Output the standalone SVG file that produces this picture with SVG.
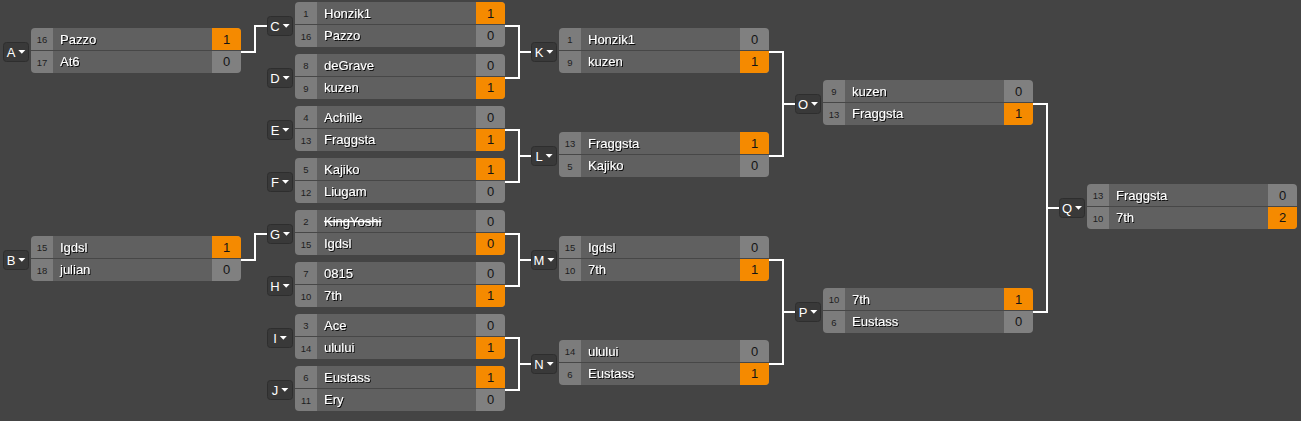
<svg xmlns="http://www.w3.org/2000/svg" xmlns:xlink="http://www.w3.org/1999/xlink" width="1301" height="421" viewBox="0 0 1301 421">
<defs>
<clipPath id="bc" clipPathUnits="userSpaceOnUse"><rect x="0" y="0" width="210" height="45" rx="4" ry="4"/></clipPath>
<filter id="ts" x="-10%" y="-30%" width="130%" height="170%"><feDropShadow dx="1" dy="1" stdDeviation="0.3" flood-color="#000" flood-opacity="0.9"/></filter>
<g id="base">
<rect x="0" y="0" width="22" height="45" fill="#7c7c7c"/>
<rect x="22" y="0" width="159" height="45" fill="#606060"/>
<rect x="181" y="0" width="29" height="45" fill="#808080"/>
</g>
<polygon id="tri" points="0,-2 7,-2 3.5,1.8" fill="#ffffff"/>
</defs>
<style>
.seed{font-family:"Liberation Sans",Arial,sans-serif;font-size:9.5px;fill:#1e1e1e;text-anchor:middle}
.name{font-family:"Liberation Sans",Arial,sans-serif;font-size:13px;fill:#ffffff;filter:url(#ts)}
.score{font-family:"Liberation Sans",Arial,sans-serif;font-size:13px;fill:#141414;text-anchor:middle}
.tagbox{fill:#393939;stroke:#2e2e2e;stroke-width:1}
.tagt{font-family:"Liberation Sans",Arial,sans-serif;font-size:13px;fill:#ffffff}
.win{fill:#f58a00}
.div{fill:#474747}
.conn{fill:none;stroke:#ffffff;stroke-width:2}
</style>
<rect x="0" y="0" width="1301" height="421" fill="#444444"/>

<g id="connectors" class="conn">
<polyline points="241,52 255,52 255,26 267,26"/>
<polyline points="241,260 255,260 255,234 267,234"/>
<polyline points="505,26 519,26 519,78 505,78"/><line x1="519" y1="52" x2="531" y2="52"/>
<polyline points="505,130 519,130 519,182 505,182"/><line x1="519" y1="156" x2="531" y2="156"/>
<polyline points="505,234 519,234 519,286 505,286"/><line x1="519" y1="260" x2="531" y2="260"/>
<polyline points="505,338 519,338 519,390 505,390"/><line x1="519" y1="364" x2="531" y2="364"/>
<polyline points="769,52 783,52 783,156 769,156"/><line x1="783" y1="104" x2="795" y2="104"/>
<polyline points="769,260 783,260 783,364 769,364"/><line x1="783" y1="312" x2="795" y2="312"/>
<polyline points="1033,104 1047,104 1047,312 1033,312"/><line x1="1047" y1="208" x2="1059" y2="208"/>
</g>

<!-- Match A -->
<g id="match-A">
<rect class="tagbox" x="3.5" y="42.5" width="25" height="19" rx="3"/>
<text class="tagt" x="6.7" y="57">A</text><use xlink:href="#tri" x="18.3" y="52"/>
<g transform="translate(31,28)" clip-path="url(#bc)">
<use xlink:href="#base"/><rect class="win" x="181" y="0" width="29" height="22"/><rect class="div" x="0" y="22" width="210" height="1"/>
<text class="seed" x="11" y="14.8">16</text><text class="name" x="29" y="15.5">Pazzo</text><text class="score" x="195.5" y="15.5">1</text>
<text class="seed" x="11" y="37.5">17</text><text class="name" x="29" y="38">At6</text><text class="score" x="195.5" y="38">0</text>
</g>
</g>

<!-- Match B -->
<g id="match-B">
<rect class="tagbox" x="3.5" y="250.5" width="25" height="19" rx="3"/>
<text class="tagt" x="6.7" y="265">B</text><use xlink:href="#tri" x="18.3" y="260"/>
<g transform="translate(31,236)" clip-path="url(#bc)">
<use xlink:href="#base"/><rect class="win" x="181" y="0" width="29" height="22"/><rect class="div" x="0" y="22" width="210" height="1"/>
<text class="seed" x="11" y="14.8">15</text><text class="name" x="29" y="15.5">Igdsl</text><text class="score" x="195.5" y="15.5">1</text>
<text class="seed" x="11" y="37.5">18</text><text class="name" x="29" y="38">julian</text><text class="score" x="195.5" y="38">0</text>
</g>
</g>

<!-- Match C -->
<g id="match-C">
<rect class="tagbox" x="267.5" y="16.5" width="25" height="19" rx="3"/>
<text class="tagt" x="270.3" y="31">C</text><use xlink:href="#tri" x="282.7" y="26"/>
<g transform="translate(295,2)" clip-path="url(#bc)">
<use xlink:href="#base"/><rect class="win" x="181" y="0" width="29" height="22"/><rect class="div" x="0" y="22" width="210" height="1"/>
<text class="seed" x="11" y="14.8">1</text><text class="name" x="29" y="15.5">Honzik1</text><text class="score" x="195.5" y="15.5">1</text>
<text class="seed" x="11" y="37.5">16</text><text class="name" x="29" y="38">Pazzo</text><text class="score" x="195.5" y="38">0</text>
</g>
</g>

<!-- Match D -->
<g id="match-D">
<rect class="tagbox" x="267.5" y="68.5" width="25" height="19" rx="3"/>
<text class="tagt" x="270.3" y="83">D</text><use xlink:href="#tri" x="282.7" y="78"/>
<g transform="translate(295,54)" clip-path="url(#bc)">
<use xlink:href="#base"/><rect class="win" x="181" y="23" width="29" height="22"/><rect class="div" x="0" y="22" width="210" height="1"/>
<text class="seed" x="11" y="14.8">8</text><text class="name" x="29" y="15.5">deGrave</text><text class="score" x="195.5" y="15.5">0</text>
<text class="seed" x="11" y="37.5">9</text><text class="name" x="29" y="38">kuzen</text><text class="score" x="195.5" y="38">1</text>
</g>
</g>

<!-- Match E -->
<g id="match-E">
<rect class="tagbox" x="267.5" y="120.5" width="25" height="19" rx="3"/>
<text class="tagt" x="270.7" y="135">E</text><use xlink:href="#tri" x="282.3" y="130"/>
<g transform="translate(295,106)" clip-path="url(#bc)">
<use xlink:href="#base"/><rect class="win" x="181" y="23" width="29" height="22"/><rect class="div" x="0" y="22" width="210" height="1"/>
<text class="seed" x="11" y="14.8">4</text><text class="name" x="29" y="15.5">Achille</text><text class="score" x="195.5" y="15.5">0</text>
<text class="seed" x="11" y="37.5">13</text><text class="name" x="29" y="38">Fraggsta</text><text class="score" x="195.5" y="38">1</text>
</g>
</g>

<!-- Match F -->
<g id="match-F">
<rect class="tagbox" x="267.5" y="172.5" width="25" height="19" rx="3"/>
<text class="tagt" x="271" y="187">F</text><use xlink:href="#tri" x="282" y="182"/>
<g transform="translate(295,158)" clip-path="url(#bc)">
<use xlink:href="#base"/><rect class="win" x="181" y="0" width="29" height="22"/><rect class="div" x="0" y="22" width="210" height="1"/>
<text class="seed" x="11" y="14.8">5</text><text class="name" x="29" y="15.5">Kajiko</text><text class="score" x="195.5" y="15.5">1</text>
<text class="seed" x="11" y="37.5">12</text><text class="name" x="29" y="38">Liugam</text><text class="score" x="195.5" y="38">0</text>
</g>
</g>

<!-- Match G -->
<g id="match-G">
<rect class="tagbox" x="267.5" y="224.5" width="25" height="19" rx="3"/>
<text class="tagt" x="269.9" y="239">G</text><use xlink:href="#tri" x="283" y="234"/>
<g transform="translate(295,210)" clip-path="url(#bc)">
<use xlink:href="#base"/><rect class="win" x="181" y="23" width="29" height="22"/><rect class="div" x="0" y="22" width="210" height="1"/>
<text class="seed" x="11" y="14.8">2</text><text class="name" x="29" y="15.5" text-decoration="line-through">KingYoshi</text><text class="score" x="195.5" y="15.5">0</text>
<text class="seed" x="11" y="37.5">15</text><text class="name" x="29" y="38">Igdsl</text><text class="score" x="195.5" y="38">0</text>
</g>
</g>

<!-- Match H -->
<g id="match-H">
<rect class="tagbox" x="267.5" y="276.5" width="25" height="19" rx="3"/>
<text class="tagt" x="270.3" y="291">H</text><use xlink:href="#tri" x="282.7" y="286"/>
<g transform="translate(295,262)" clip-path="url(#bc)">
<use xlink:href="#base"/><rect class="win" x="181" y="23" width="29" height="22"/><rect class="div" x="0" y="22" width="210" height="1"/>
<text class="seed" x="11" y="14.8">7</text><text class="name" x="29" y="15.5">0815</text><text class="score" x="195.5" y="15.5">0</text>
<text class="seed" x="11" y="37.5">10</text><text class="name" x="29" y="38">7th</text><text class="score" x="195.5" y="38">1</text>
</g>
</g>

<!-- Match I -->
<g id="match-I">
<rect class="tagbox" x="267.5" y="328.5" width="25" height="19" rx="3"/>
<text class="tagt" x="273.2" y="343">I</text><use xlink:href="#tri" x="279.8" y="338"/>
<g transform="translate(295,314)" clip-path="url(#bc)">
<use xlink:href="#base"/><rect class="win" x="181" y="23" width="29" height="22"/><rect class="div" x="0" y="22" width="210" height="1"/>
<text class="seed" x="11" y="14.8">3</text><text class="name" x="29" y="15.5">Ace</text><text class="score" x="195.5" y="15.5">0</text>
<text class="seed" x="11" y="37.5">14</text><text class="name" x="29" y="38">ulului</text><text class="score" x="195.5" y="38">1</text>
</g>
</g>

<!-- Match J -->
<g id="match-J">
<rect class="tagbox" x="267.5" y="380.5" width="25" height="19" rx="3"/>
<text class="tagt" x="271.7" y="395">J</text><use xlink:href="#tri" x="281.3" y="390"/>
<g transform="translate(295,366)" clip-path="url(#bc)">
<use xlink:href="#base"/><rect class="win" x="181" y="0" width="29" height="22"/><rect class="div" x="0" y="22" width="210" height="1"/>
<text class="seed" x="11" y="14.8">6</text><text class="name" x="29" y="15.5">Eustass</text><text class="score" x="195.5" y="15.5">1</text>
<text class="seed" x="11" y="37.5">11</text><text class="name" x="29" y="38">Ery</text><text class="score" x="195.5" y="38">0</text>
</g>
</g>

<!-- Match K -->
<g id="match-K">
<rect class="tagbox" x="531.5" y="42.5" width="25" height="19" rx="3"/>
<text class="tagt" x="534.7" y="57">K</text><use xlink:href="#tri" x="546.3" y="52"/>
<g transform="translate(559,28)" clip-path="url(#bc)">
<use xlink:href="#base"/><rect class="win" x="181" y="23" width="29" height="22"/><rect class="div" x="0" y="22" width="210" height="1"/>
<text class="seed" x="11" y="14.8">1</text><text class="name" x="29" y="15.5">Honzik1</text><text class="score" x="195.5" y="15.5">0</text>
<text class="seed" x="11" y="37.5">9</text><text class="name" x="29" y="38">kuzen</text><text class="score" x="195.5" y="38">1</text>
</g>
</g>

<!-- Match L -->
<g id="match-L">
<rect class="tagbox" x="531.5" y="146.5" width="25" height="19" rx="3"/>
<text class="tagt" x="535.4" y="161">L</text><use xlink:href="#tri" x="545.6" y="156"/>
<g transform="translate(559,132)" clip-path="url(#bc)">
<use xlink:href="#base"/><rect class="win" x="181" y="0" width="29" height="22"/><rect class="div" x="0" y="22" width="210" height="1"/>
<text class="seed" x="11" y="14.8">13</text><text class="name" x="29" y="15.5">Fraggsta</text><text class="score" x="195.5" y="15.5">1</text>
<text class="seed" x="11" y="37.5">5</text><text class="name" x="29" y="38">Kajiko</text><text class="score" x="195.5" y="38">0</text>
</g>
</g>

<!-- Match M -->
<g id="match-M">
<rect class="tagbox" x="531.5" y="250.5" width="25" height="19" rx="3"/>
<text class="tagt" x="533.6" y="265">M</text><use xlink:href="#tri" x="547.4" y="260"/>
<g transform="translate(559,236)" clip-path="url(#bc)">
<use xlink:href="#base"/><rect class="win" x="181" y="23" width="29" height="22"/><rect class="div" x="0" y="22" width="210" height="1"/>
<text class="seed" x="11" y="14.8">15</text><text class="name" x="29" y="15.5">Igdsl</text><text class="score" x="195.5" y="15.5">0</text>
<text class="seed" x="11" y="37.5">10</text><text class="name" x="29" y="38">7th</text><text class="score" x="195.5" y="38">1</text>
</g>
</g>

<!-- Match N -->
<g id="match-N">
<rect class="tagbox" x="531.5" y="354.5" width="25" height="19" rx="3"/>
<text class="tagt" x="534.3" y="369">N</text><use xlink:href="#tri" x="546.7" y="364"/>
<g transform="translate(559,340)" clip-path="url(#bc)">
<use xlink:href="#base"/><rect class="win" x="181" y="23" width="29" height="22"/><rect class="div" x="0" y="22" width="210" height="1"/>
<text class="seed" x="11" y="14.8">14</text><text class="name" x="29" y="15.5">ulului</text><text class="score" x="195.5" y="15.5">0</text>
<text class="seed" x="11" y="37.5">6</text><text class="name" x="29" y="38">Eustass</text><text class="score" x="195.5" y="38">1</text>
</g>
</g>

<!-- Match O -->
<g id="match-O">
<rect class="tagbox" x="795.5" y="94.5" width="25" height="19" rx="3"/>
<text class="tagt" x="797.9" y="109">O</text><use xlink:href="#tri" x="811" y="104"/>
<g transform="translate(823,80)" clip-path="url(#bc)">
<use xlink:href="#base"/><rect class="win" x="181" y="23" width="29" height="22"/><rect class="div" x="0" y="22" width="210" height="1"/>
<text class="seed" x="11" y="14.8">9</text><text class="name" x="29" y="15.5">kuzen</text><text class="score" x="195.5" y="15.5">0</text>
<text class="seed" x="11" y="37.5">13</text><text class="name" x="29" y="38">Fraggsta</text><text class="score" x="195.5" y="38">1</text>
</g>
</g>

<!-- Match P -->
<g id="match-P">
<rect class="tagbox" x="795.5" y="302.5" width="25" height="19" rx="3"/>
<text class="tagt" x="798.7" y="317">P</text><use xlink:href="#tri" x="810.3" y="312"/>
<g transform="translate(823,288)" clip-path="url(#bc)">
<use xlink:href="#base"/><rect class="win" x="181" y="0" width="29" height="22"/><rect class="div" x="0" y="22" width="210" height="1"/>
<text class="seed" x="11" y="14.8">10</text><text class="name" x="29" y="15.5">7th</text><text class="score" x="195.5" y="15.5">1</text>
<text class="seed" x="11" y="37.5">6</text><text class="name" x="29" y="38">Eustass</text><text class="score" x="195.5" y="38">0</text>
</g>
</g>

<!-- Match Q -->
<g id="match-Q">
<rect class="tagbox" x="1059.5" y="198.5" width="25" height="19" rx="3"/>
<text class="tagt" x="1061.9" y="213">Q</text><use xlink:href="#tri" x="1075" y="208"/>
<g transform="translate(1087,184)" clip-path="url(#bc)">
<use xlink:href="#base"/><rect class="win" x="181" y="23" width="29" height="22"/><rect class="div" x="0" y="22" width="210" height="1"/>
<text class="seed" x="11" y="14.8">13</text><text class="name" x="29" y="15.5">Fraggsta</text><text class="score" x="195.5" y="15.5">0</text>
<text class="seed" x="11" y="37.5">10</text><text class="name" x="29" y="38">7th</text><text class="score" x="195.5" y="38">2</text>
</g>
</g>
</svg>
